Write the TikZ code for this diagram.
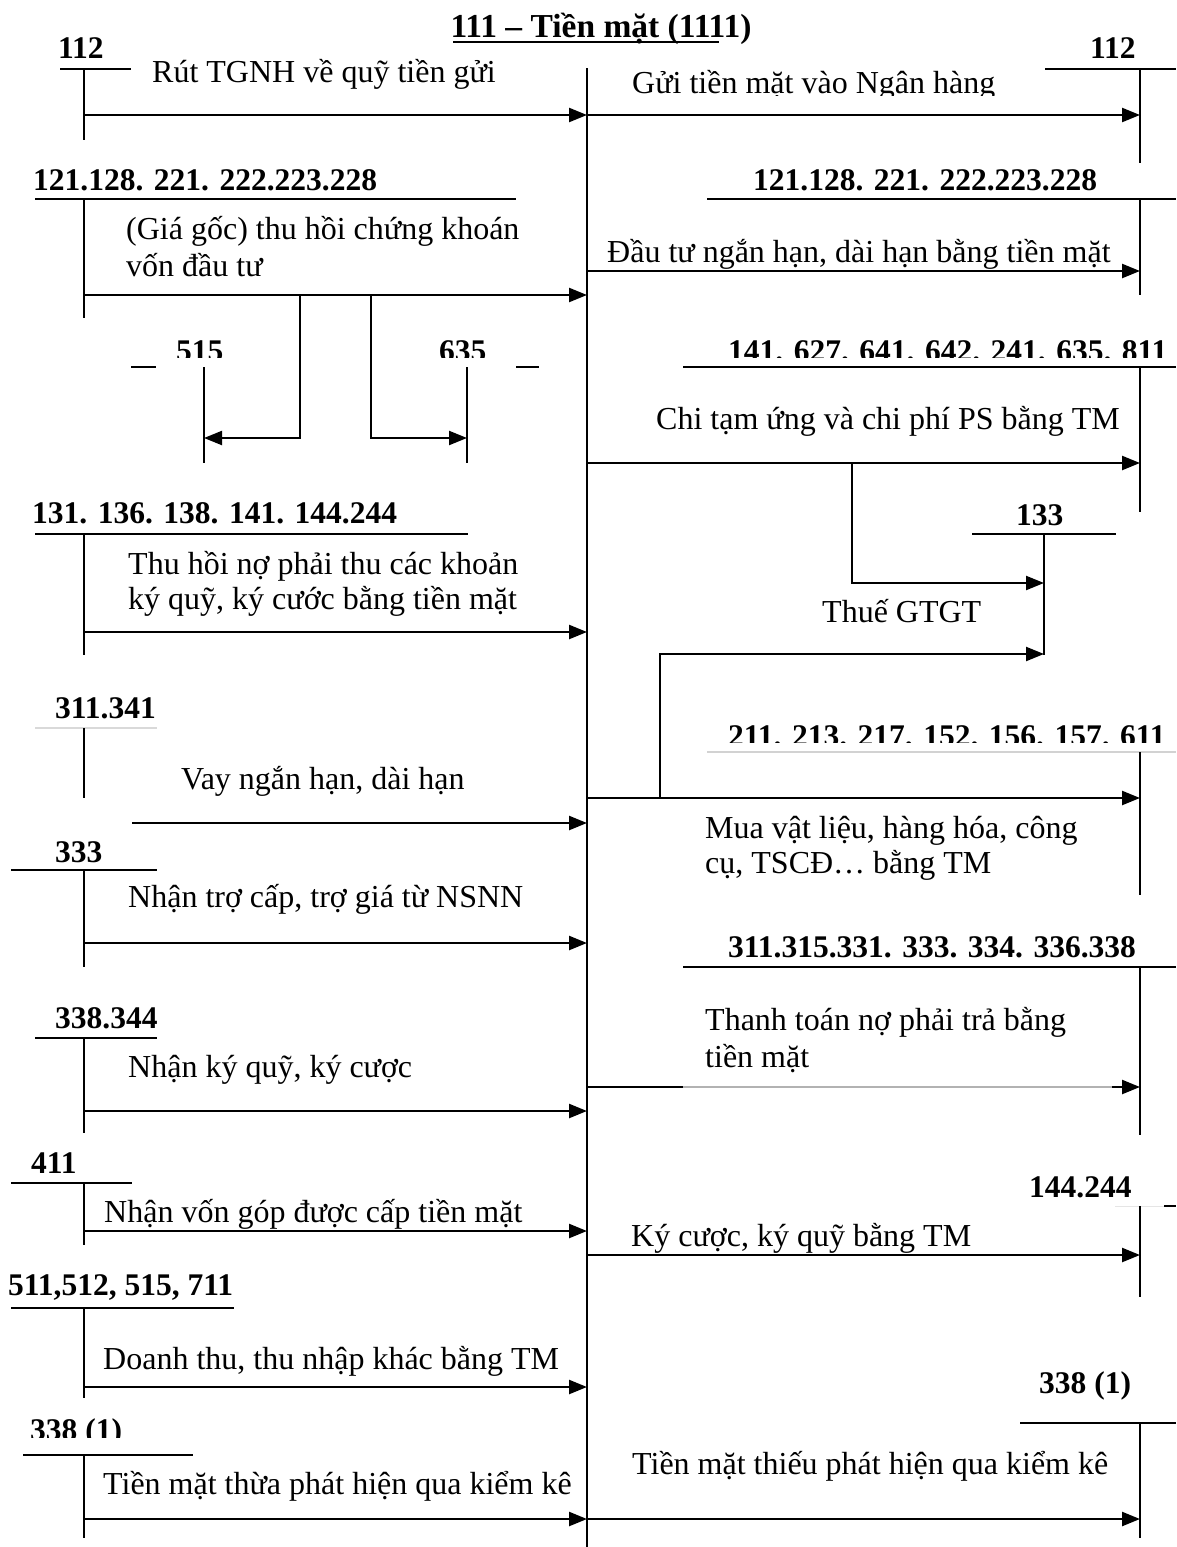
\documentclass[tikz,border=0pt]{standalone}
\usepackage{fontspec}
\setmainfont{Liberation Serif}
\usetikzlibrary{arrows.meta}
\begin{document}
\begin{tikzpicture}[x=1pt,y=-1pt,
  lbl/.style={font=\bfseries\fontsize{31.5}{36}\selectfont, inner sep=0pt, anchor=base west},
  ttl/.style={font=\bfseries\fontsize{33.5}{38}\selectfont, inner sep=0pt, anchor=base},
  txt/.style={font=\fontsize{32}{36}\selectfont, inner sep=0pt, anchor=base west},
  tl/.style={line width=1.5pt},
  arr/.style={line width=2.4pt, -{Triangle[length=18pt,width=14pt]}},
  br/.style={line width=2.2pt, -{Triangle[length=18pt,width=14pt]}}]
\useasboundingbox (0,0) rectangle (1176,1547);
% central line
\draw[tl] (587,68) -- (587,1547);
% title
\node[ttl] (title) at (601,37) {111 – Tiền mặt (1111)};
\draw[line width=2pt] (453,42) -- (719,42);

% ---- left 112
\node[lbl] (l112) at (58,58) {112};
\draw[tl] (60,69) -- (131,69);
\draw[tl] (84,69) -- (84,140);
\node[txt] (t1) at (152,82) {Rút TGNH về quỹ tiền gửi};
\draw[arr] (84,115) -- (587,115);
% ---- right 112
\node[lbl] (r112) at (1090,58) {112};
\draw[tl] (1045,69) -- (1176,69);
\draw[tl] (1140,69) -- (1140,163);
\begin{scope}
\clip (600,40) rectangle (1100,95);
\node[txt] (t2) at (632,93) {Gửi tiền mặt vào Ngân hàng};
\end{scope}
\draw[arr] (587,115) -- (1140,115);

% ---- left 121...
\node[lbl] (l121) at (33,190) {121.128. 221. 222.223.228};
\draw[tl] (35,199) -- (516,199);
\draw[tl] (84,199) -- (84,318);
\node[txt] (t3a) at (126,239) {(Giá gốc) thu hồi chứng khoán};
\node[txt] (t3b) at (126,276) {vốn đầu tư};
\draw[arr] (84,295) -- (587,295);
\draw[br] (300,295) |- (204,438);
\draw[br] (371,295) |- (467,438);
\begin{scope}
\clip (150,310) rectangle (260,357);
\node[lbl] (l515) at (176,361) {515};
\end{scope}
\draw[tl] (131,367) -- (156,367);
\draw[tl] (204,367) -- (204,463);
\begin{scope}
\clip (420,310) rectangle (520,357);
\node[lbl] (l635) at (439,361) {635};
\end{scope}
\draw[tl] (516,367) -- (539,367);
\draw[tl] (467,367) -- (467,463);

% ---- right 121...
\node[lbl] (r121) at (753,190) {121.128. 221. 222.223.228};
\draw[tl] (707,199) -- (1176,199);
\draw[tl] (1140,199) -- (1140,295);
\node[txt] (t4) at (607,262) {Đầu tư ngắn hạn, dài hạn bằng tiền mặt};
\draw[arr] (587,271) -- (1140,271);

% ---- right 141...
\begin{scope}
\clip (700,310) rectangle (1176,357);
\node[lbl] (r141) at (728,361) {141. 627. 641. 642. 241. 635. 811};
\end{scope}
\draw[tl] (683,367) -- (1176,367);
\draw[tl] (1140,367) -- (1140,512);
\node[txt] (t5) at (656,429) {Chi tạm ứng và chi phí PS bằng TM};
\draw[arr] (587,463) -- (1140,463);
\draw[br] (852,463) |- (1044,583);
\node[lbl] (r133) at (1016,525) {133};
\draw[tl] (972,534) -- (1116,534);
\draw[tl] (1044,534) -- (1044,655);
\node[txt] (t6) at (822,622) {Thuế GTGT};
\draw[br] (660,798) |- (1044,654);

% ---- right 211...
\begin{scope}
\clip (700,690) rectangle (1176,742);
\node[lbl] (r211) at (728,746) {211. 213. 217. 152. 156. 157. 611};
\end{scope}
\draw[tl, gray!35] (707,752) -- (1176,752);
\draw[tl] (1140,752) -- (1140,895);
\draw[arr] (587,798) -- (1140,798);
\node[txt] (t7a) at (705,838) {Mua vật liệu, hàng hóa, công};
\node[txt] (t7b) at (705,873) {cụ, TSCĐ… bằng TM};

% ---- left 131...
\node[lbl] (l131) at (32,523) {131. 136. 138. 141. 144.244};
\draw[tl] (35,534) -- (468,534);
\draw[tl] (84,534) -- (84,655);
\node[txt] (t8a) at (128,574) {Thu hồi nợ phải thu các khoản};
\node[txt] (t8b) at (128,609) {ký quỹ, ký cước bằng tiền mặt};
\draw[arr] (84,632) -- (587,632);

% ---- left 311.341
\node[lbl] (l311) at (55,718) {311.341};
\draw[tl, gray!30] (35,728) -- (157,728);
\draw[tl] (84,728) -- (84,798);
\node[txt] (t9) at (181,789) {Vay ngắn hạn, dài hạn};
\draw[arr] (132,823) -- (587,823);

% ---- left 333
\node[lbl] (l333) at (55,862) {333};
\draw[tl] (11,870) -- (157,870);
\draw[tl] (84,870) -- (84,967);
\node[txt] (t10) at (128,907) {Nhận trợ cấp, trợ giá từ NSNN};
\draw[arr] (84,943) -- (587,943);

% ---- right 311.315...
\node[lbl] (r311) at (728,957) {311.315.331. 333. 334. 336.338};
\draw[tl] (683,967) -- (1176,967);
\draw[tl] (1140,967) -- (1140,1135);
\node[txt] (t11a) at (705,1030) {Thanh toán nợ phải trả bằng};
\node[txt] (t11b) at (705,1067) {tiền mặt};
\draw[line width=2.4pt] (587,1087) -- (683,1087);
\draw[line width=1.3pt, gray!60] (683,1087) -- (1118,1087);
\draw[arr] (1112,1087) -- (1140,1087);

% ---- left 338.344
\node[lbl] (l338) at (55,1028) {338.344};
\draw[tl] (35,1038) -- (157,1038);
\draw[tl] (84,1038) -- (84,1133);
\node[txt] (t12) at (128,1077) {Nhận ký quỹ, ký cược};
\draw[arr] (84,1111) -- (587,1111);

% ---- left 411
\node[lbl] (l411) at (31,1173) {411};
\draw[tl] (11,1183) -- (132,1183);
\draw[tl] (84,1183) -- (84,1245);
\node[txt] (t13) at (104,1222) {Nhận vốn góp được cấp tiền mặt};
\draw[arr] (84,1231) -- (587,1231);

% ---- right 144.244
\node[lbl] (r144) at (1029,1197) {144.244};
\draw[line width=1pt, gray!20] (1115,1206) -- (1164,1206);
\draw[tl] (1164,1206) -- (1176,1206);
\draw[tl] (1140,1206) -- (1140,1297);
\node[txt] (t14) at (631,1246) {Ký cược, ký quỹ bằng TM};
\draw[arr] (587,1255) -- (1140,1255);

% ---- left 511...
\node[lbl] (l511) at (8,1295) {511,512, 515, 711};
\draw[tl] (11,1308) -- (234,1308);
\draw[tl] (84,1308) -- (84,1398);
\node[txt] (t15) at (103,1369) {Doanh thu, thu nhập khác bằng TM};
\draw[arr] (84,1387) -- (587,1387);

% ---- left 338 (1)
\begin{scope}
\clip (0,1395) rectangle (200,1437);
\node[lbl] (l3381) at (30,1440) {338 (1)};
\end{scope}
\draw[tl] (23,1455) -- (193,1455);
\draw[tl] (84,1455) -- (84,1538);
\node[txt] (t16) at (103,1494) {Tiền mặt thừa phát hiện qua kiểm kê};
\draw[arr] (84,1519) -- (587,1519);

% ---- right 338 (1)
\node[lbl] (r3381) at (1039,1393) {338 (1)};
\draw[tl] (1020,1423) -- (1176,1423);
\draw[tl] (1140,1423) -- (1140,1538);
\node[txt] (t17) at (632,1474) {Tiền mặt thiếu phát hiện qua kiểm kê};
\draw[arr] (587,1519) -- (1140,1519);
\end{tikzpicture}
\end{document}
